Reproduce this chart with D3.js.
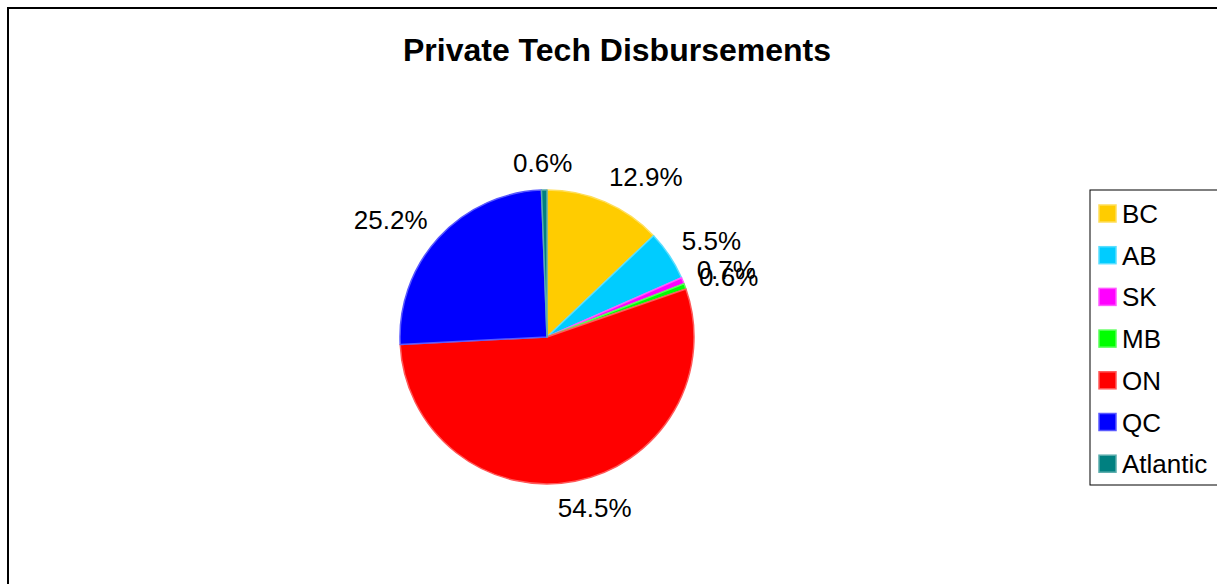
<!DOCTYPE html>
<html>
<head>
<meta charset="utf-8">
<script src="https://cdn.jsdelivr.net/npm/d3@7"></script>
<style>
  body { margin: 0; background: #fff; }
  svg { display: block; font-family: "Liberation Sans", Arial, sans-serif; }
</style>
</head>
<body>
<svg id="chart" width="1217" height="584"></svg>
<script>
// chart data
var provinces = ["BC", "AB", "SK", "MB", "ON", "QC", "Atlantic"];
var shares = [12.9, 5.5, 0.7, 0.6, 54.5, 25.2, 0.6];
var sliceColors = ["#FFCC00", "#00CCFF", "#FF00FF", "#00FF00", "#FF0000", "#0000FF", "#008080"];

var svg = d3.select("#chart");

// outer chart border (runs off the right and bottom)
svg.append("path")
    .attr("d", "M8,600 L8,8 L1230,8")
    .attr("fill", "none")
    .attr("stroke", "#000")
    .attr("stroke-width", 2);

svg.append("text")
    .attr("x", 617)
    .attr("y", 61)
    .attr("text-anchor", "middle")
    .attr("font-size", 32)
    .attr("font-weight", "bold")
    .text("Private Tech Disbursements");

var color = d3.scaleOrdinal().domain(provinces).range(sliceColors);
function edge(c) { return d3.interpolateRgb(c, "#fff")(0.35); }

var cx = 547, cy = 337, r = 147;
var pie = d3.pie().sort(null).value(function(d, i) { return shares[i]; });
var arcs = pie(provinces);
var arc = d3.arc().innerRadius(0).outerRadius(r);

var g = svg.append("g").attr("transform", "translate(" + cx + "," + cy + ")");

g.selectAll("path.slice")
    .data(arcs)
  .enter().append("path")
    .attr("class", "slice")
    .attr("d", arc)
    .attr("fill", function(d) { return color(d.data); })
    .attr("stroke", function(d) { return edge(color(d.data)); })
    .attr("stroke-width", 1.5)
    .attr("stroke-linejoin", "round");

// labels sit outside the rim, box pushed outward along the mid angle
var fontSize = 26, labelR = r + 15;
g.selectAll("text.lbl")
    .data(arcs)
  .enter().append("text")
    .attr("class", "lbl")
    .attr("font-size", fontSize)
    .attr("text-anchor", "middle")
    .attr("dominant-baseline", "central")
    .text(function(d, i) { return shares[i].toFixed(1) + "%"; })
    .each(function(d) {
      var a = (d.startAngle + d.endAngle) / 2;
      var w = this.getComputedTextLength();
      var push = Math.max(-1, Math.min(1, 2.4 * Math.sin(a)));
      var x = Math.sin(a) * labelR + push * w / 2;
      var y = -Math.cos(a) * labelR - Math.cos(a) * 12;
      d3.select(this).attr("x", x).attr("y", y);
    });

// legend
var lx = 1090, ly = 190, rowH = 41.7;
svg.append("rect")
    .attr("x", lx)
    .attr("y", ly)
    .attr("width", 160)
    .attr("height", 295)
    .attr("fill", "#fff")
    .attr("stroke", "#000")
    .attr("stroke-width", 1);

var item = svg.selectAll("g.legend")
    .data(provinces)
  .enter().append("g")
    .attr("class", "legend")
    .attr("transform", function(d, i) { return "translate(" + (lx + 9) + "," + (ly + 23 + i * rowH) + ")"; });

item.append("rect")
    .attr("x", 0)
    .attr("y", -8)
    .attr("width", 17)
    .attr("height", 17)
    .attr("fill", function(d) { return color(d); })
    .attr("stroke", function(d) { return edge(color(d)); })
    .attr("stroke-width", 1.5);

item.append("text")
    .attr("x", 23)
    .attr("y", 1)
    .attr("dominant-baseline", "central")
    .attr("font-size", fontSize)
    .text(function(d) { return d; });
</script>
</body>
</html>
